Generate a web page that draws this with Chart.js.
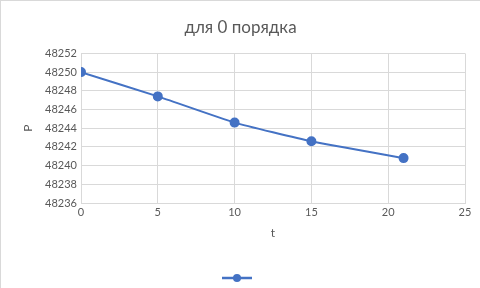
<!DOCTYPE html>
<html>
<head>
<meta charset="utf-8">
<script src="https://cdn.jsdelivr.net/npm/chart.js@4"></script>
<style>
  html, body { margin: 0; padding: 0; background: #fff; }
  #wrap { position: relative; width: 480px; height: 288px; box-sizing: border-box; border-top: 1px solid #d9d9d9; border-left: 1px solid #d9d9d9; }
</style>
</head>
<body>
<div id="wrap"><canvas id="chart"></canvas></div>
<script>
const tValues = [0, 5, 10, 15, 21];
const pValues = [48250, 48247.4, 48244.6, 48242.6, 48240.8];
const chartTitle = 'для 0 порядка';
const xTitle = 't';
const yTitle = 'P';

const FONT = 'Lato, "Noto Sans", sans-serif';
const GREY = '#595959';
const BLUE = '#4472C4';

// Excel-style legend: line + marker, no text
const legendLine = {
  id: 'legendLine',
  afterDraw(chart) {
    const ctx = chart.ctx;
    const cx = 236, cy = 277;
    ctx.save();
    ctx.strokeStyle = BLUE;
    ctx.lineWidth = 2.5;
    ctx.beginPath();
    ctx.moveTo(cx - 15, cy);
    ctx.lineTo(cx + 15, cy);
    ctx.stroke();
    ctx.fillStyle = BLUE;
    ctx.beginPath();
    ctx.arc(cx, cy, 4, 0, Math.PI * 2);
    ctx.fill();
    ctx.restore();
  }
};

new Chart(document.getElementById('chart'), {
  type: 'scatter',
  data: {
    datasets: [{
      data: tValues.map((t, i) => ({ x: t, y: pValues[i] })),
      showLine: true,
      borderColor: BLUE,
      backgroundColor: BLUE,
      borderWidth: 2,
      pointRadius: 4,
      pointHoverRadius: 4,
      tension: 0.15
    }]
  },
  options: {
    responsive: true,
    maintainAspectRatio: false,
    animation: false,
    layout: { padding: { top: 0, right: 15, bottom: 40, left: 15 } },
    scales: {
      x: {
        type: 'linear',
        min: 0,
        max: 25,
        afterFit(scale) { scale.height = 45; },
        ticks: { stepSize: 5, color: GREY, padding: 3, font: { family: FONT, size: 11 } },
        grid: { color: '#d9d9d9', drawTicks: false },
        border: { color: '#d9d9d9' },
        title: { display: true, text: xTitle, color: GREY, padding: { top: 0, bottom: 8 }, font: { family: FONT, size: 12 } }
      },
      y: {
        min: 48236,
        max: 48252,
        afterFit(scale) { scale.width = 65; },
        ticks: { stepSize: 2, color: GREY, padding: 4, font: { family: FONT, size: 11 }, callback: v => String(v) },
        grid: { color: '#d9d9d9', drawTicks: false },
        border: { color: '#d9d9d9' },
        title: { display: true, text: yTitle, color: GREY, padding: { top: 5, bottom: 0 }, font: { family: FONT, size: 12 } }
      }
    },
    plugins: {
      legend: { display: false },
      tooltip: { enabled: false },
      title: {
        display: true,
        text: chartTitle,
        color: GREY,
        padding: { top: 16, bottom: 16 },
        font: { family: FONT, size: 17, weight: 'normal' }
      }
    }
  },
  plugins: [legendLine]
});
</script>
</body>
</html>
